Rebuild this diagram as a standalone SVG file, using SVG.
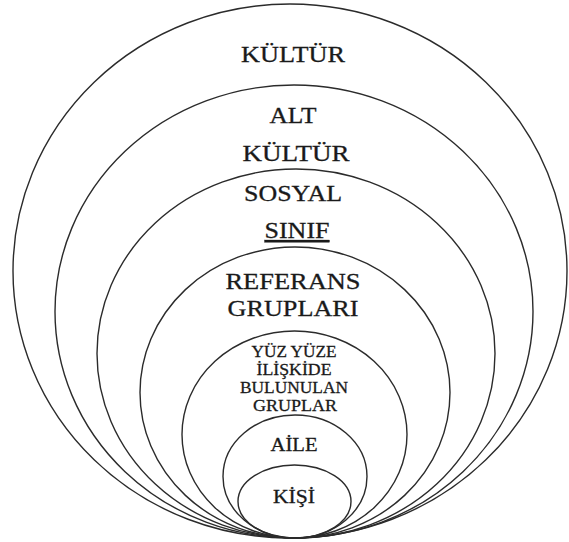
<svg xmlns="http://www.w3.org/2000/svg" width="569" height="542" viewBox="0 0 569 542">
<style>
.ring{fill:none;stroke:#2b2b2b;stroke-width:1.4}
.lbl{font-family:"Liberation Serif","Times New Roman",serif;fill:#1a1a1a;stroke:#1a1a1a;stroke-width:0.3;text-anchor:middle}
.big{font-size:23px}
.mid{font-size:19px}
.sm{font-size:17px}
</style>
<rect width="569" height="542" fill="#ffffff"/>
<g id="kultur">
<ellipse class="ring" cx="290" cy="271" rx="277" ry="267"/>
<text class="lbl big" x="293" y="62" textLength="104" lengthAdjust="spacingAndGlyphs">KÜLTÜR</text>
</g>
<g id="alt-kultur">
<ellipse class="ring" cx="294" cy="311.5" rx="239" ry="226.5"/>
<text class="lbl big" x="293" y="123" textLength="47" lengthAdjust="spacingAndGlyphs">ALT</text>
<text class="lbl big" x="296" y="161" textLength="107" lengthAdjust="spacingAndGlyphs">KÜLTÜR</text>
</g>
<g id="sosyal-sinif">
<ellipse class="ring" cx="296" cy="353.5" rx="199" ry="184.5"/>
<text class="lbl big" x="293" y="201" textLength="98" lengthAdjust="spacingAndGlyphs">SOSYAL</text>
<text class="lbl big" x="297" y="238" textLength="65" lengthAdjust="spacingAndGlyphs" text-decoration="underline">SINIF</text>
</g>
<g id="referans-gruplari">
<ellipse class="ring" cx="295" cy="392.5" rx="155" ry="145.5"/>
<text class="lbl big" x="293" y="289" textLength="135" lengthAdjust="spacingAndGlyphs">REFERANS</text>
<text class="lbl big" x="293" y="316" textLength="131" lengthAdjust="spacingAndGlyphs">GRUPLARI</text>
</g>
<g id="yuz-yuze">
<ellipse class="ring" cx="294.5" cy="434.5" rx="112.5" ry="103.5"/>
<text class="lbl sm" x="294" y="357" textLength="85" lengthAdjust="spacingAndGlyphs">YÜZ YÜZE</text>
<text class="lbl sm" x="294" y="375" textLength="75" lengthAdjust="spacingAndGlyphs">İLİŞKİDE</text>
<text class="lbl sm" x="294" y="393" textLength="108" lengthAdjust="spacingAndGlyphs">BULUNULAN</text>
<text class="lbl sm" x="295" y="411" textLength="84" lengthAdjust="spacingAndGlyphs">GRUPLAR</text>
</g>
<g id="aile">
<ellipse class="ring" cx="295" cy="476.5" rx="72" ry="61.5"/>
<text class="lbl mid" x="294" y="451" textLength="47" lengthAdjust="spacingAndGlyphs">AİLE</text>
</g>
<g id="kisi">
<ellipse class="ring" cx="294.5" cy="501.5" rx="56.5" ry="36.5"/>
<text class="lbl mid" x="294" y="503" textLength="42" lengthAdjust="spacingAndGlyphs">KİŞİ</text>
</g>
<g id="connectors"/>
</svg>
